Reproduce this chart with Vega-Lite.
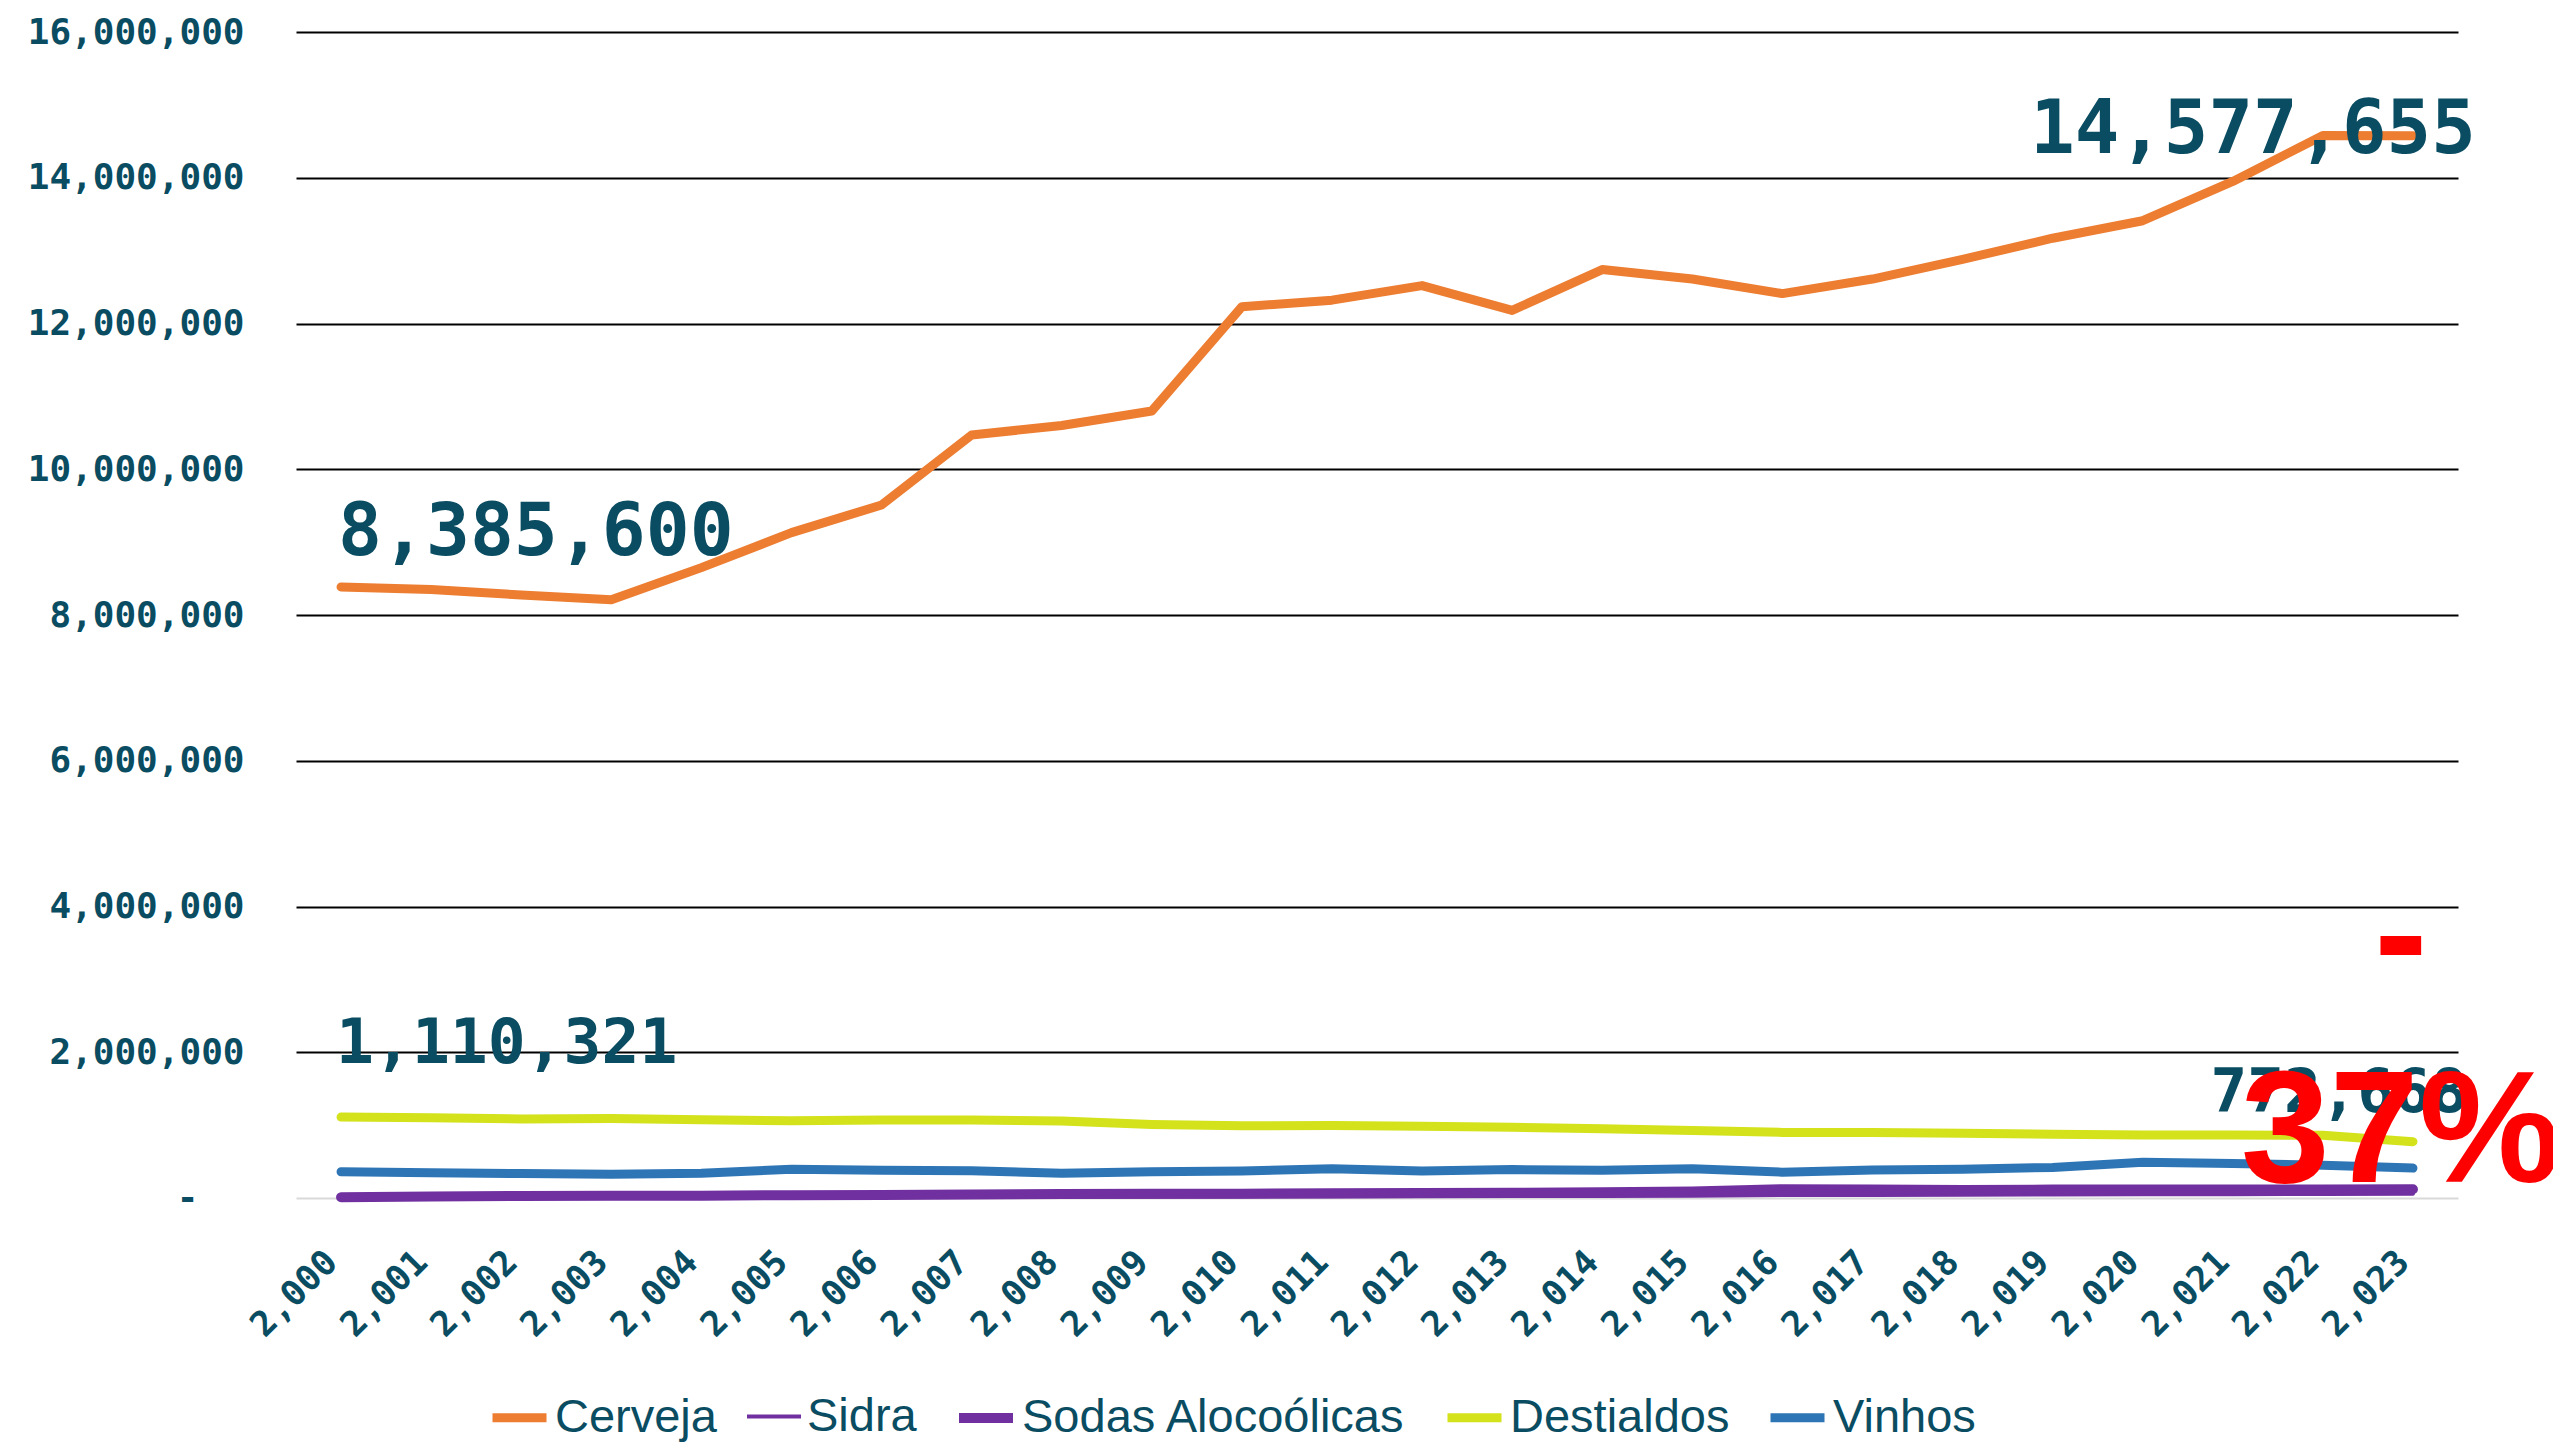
{
  "$schema": "https://vega.github.io/schema/vega-lite/v6.json",
  "autosize": "none",
  "width": 2162,
  "height": 1166,
  "padding": {"left": 296, "top": 32, "right": 95, "bottom": 245},
  "background": "white",
  "config": {
    "view": {"stroke": null},
    "axis": {"labelColor": "#0a4d62", "labelFont": "DejaVu Sans Mono", "labelFontWeight": "bold", "labelLimit": 500}
  },
  "datasets": {
    "main": [
      {"Ano": 2000, "Serie": "Cerveja", "Valor": 8385600},
      {"Ano": 2001, "Serie": "Cerveja", "Valor": 8350000},
      {"Ano": 2002, "Serie": "Cerveja", "Valor": 8275000},
      {"Ano": 2003, "Serie": "Cerveja", "Valor": 8210000},
      {"Ano": 2004, "Serie": "Cerveja", "Valor": 8650000},
      {"Ano": 2005, "Serie": "Cerveja", "Valor": 9130000},
      {"Ano": 2006, "Serie": "Cerveja", "Valor": 9510000},
      {"Ano": 2007, "Serie": "Cerveja", "Valor": 10470000},
      {"Ano": 2008, "Serie": "Cerveja", "Valor": 10600000},
      {"Ano": 2009, "Serie": "Cerveja", "Valor": 10800000},
      {"Ano": 2010, "Serie": "Cerveja", "Valor": 12230000},
      {"Ano": 2011, "Serie": "Cerveja", "Valor": 12320000},
      {"Ano": 2012, "Serie": "Cerveja", "Valor": 12520000},
      {"Ano": 2013, "Serie": "Cerveja", "Valor": 12180000},
      {"Ano": 2014, "Serie": "Cerveja", "Valor": 12740000},
      {"Ano": 2015, "Serie": "Cerveja", "Valor": 12610000},
      {"Ano": 2016, "Serie": "Cerveja", "Valor": 12410000},
      {"Ano": 2017, "Serie": "Cerveja", "Valor": 12610000},
      {"Ano": 2018, "Serie": "Cerveja", "Valor": 12880000},
      {"Ano": 2019, "Serie": "Cerveja", "Valor": 13170000},
      {"Ano": 2020, "Serie": "Cerveja", "Valor": 13410000},
      {"Ano": 2021, "Serie": "Cerveja", "Valor": 13950000},
      {"Ano": 2022, "Serie": "Cerveja", "Valor": 14580000},
      {"Ano": 2023, "Serie": "Cerveja", "Valor": 14577655},
      {"Ano": 2000, "Serie": "Sidra", "Valor": 5000},
      {"Ano": 2001, "Serie": "Sidra", "Valor": 6000},
      {"Ano": 2002, "Serie": "Sidra", "Valor": 8000},
      {"Ano": 2003, "Serie": "Sidra", "Valor": 9000},
      {"Ano": 2004, "Serie": "Sidra", "Valor": 10000},
      {"Ano": 2005, "Serie": "Sidra", "Valor": 12000},
      {"Ano": 2006, "Serie": "Sidra", "Valor": 13000},
      {"Ano": 2007, "Serie": "Sidra", "Valor": 15000},
      {"Ano": 2008, "Serie": "Sidra", "Valor": 17000},
      {"Ano": 2009, "Serie": "Sidra", "Valor": 18000},
      {"Ano": 2010, "Serie": "Sidra", "Valor": 20000},
      {"Ano": 2011, "Serie": "Sidra", "Valor": 22000},
      {"Ano": 2012, "Serie": "Sidra", "Valor": 24000},
      {"Ano": 2013, "Serie": "Sidra", "Valor": 26000},
      {"Ano": 2014, "Serie": "Sidra", "Valor": 28000},
      {"Ano": 2015, "Serie": "Sidra", "Valor": 30000},
      {"Ano": 2016, "Serie": "Sidra", "Valor": 40000},
      {"Ano": 2017, "Serie": "Sidra", "Valor": 42000},
      {"Ano": 2018, "Serie": "Sidra", "Valor": 45000},
      {"Ano": 2019, "Serie": "Sidra", "Valor": 48000},
      {"Ano": 2020, "Serie": "Sidra", "Valor": 50000},
      {"Ano": 2021, "Serie": "Sidra", "Valor": 52000},
      {"Ano": 2022, "Serie": "Sidra", "Valor": 55000},
      {"Ano": 2023, "Serie": "Sidra", "Valor": 58000},
      {"Ano": 2000, "Serie": "Sodas Alocoólicas", "Valor": 10000},
      {"Ano": 2001, "Serie": "Sodas Alocoólicas", "Valor": 20000},
      {"Ano": 2002, "Serie": "Sodas Alocoólicas", "Valor": 28000},
      {"Ano": 2003, "Serie": "Sodas Alocoólicas", "Valor": 30000},
      {"Ano": 2004, "Serie": "Sodas Alocoólicas", "Valor": 32000},
      {"Ano": 2005, "Serie": "Sodas Alocoólicas", "Valor": 38000},
      {"Ano": 2006, "Serie": "Sodas Alocoólicas", "Valor": 42000},
      {"Ano": 2007, "Serie": "Sodas Alocoólicas", "Valor": 48000},
      {"Ano": 2008, "Serie": "Sodas Alocoólicas", "Valor": 55000},
      {"Ano": 2009, "Serie": "Sodas Alocoólicas", "Valor": 58000},
      {"Ano": 2010, "Serie": "Sodas Alocoólicas", "Valor": 60000},
      {"Ano": 2011, "Serie": "Sodas Alocoólicas", "Valor": 65000},
      {"Ano": 2012, "Serie": "Sodas Alocoólicas", "Valor": 68000},
      {"Ano": 2013, "Serie": "Sodas Alocoólicas", "Valor": 72000},
      {"Ano": 2014, "Serie": "Sodas Alocoólicas", "Valor": 80000},
      {"Ano": 2015, "Serie": "Sodas Alocoólicas", "Valor": 90000},
      {"Ano": 2016, "Serie": "Sodas Alocoólicas", "Valor": 120000},
      {"Ano": 2017, "Serie": "Sodas Alocoólicas", "Valor": 118000},
      {"Ano": 2018, "Serie": "Sodas Alocoólicas", "Valor": 110000},
      {"Ano": 2019, "Serie": "Sodas Alocoólicas", "Valor": 115000},
      {"Ano": 2020, "Serie": "Sodas Alocoólicas", "Valor": 118000},
      {"Ano": 2021, "Serie": "Sodas Alocoólicas", "Valor": 118000},
      {"Ano": 2022, "Serie": "Sodas Alocoólicas", "Valor": 118000},
      {"Ano": 2023, "Serie": "Sodas Alocoólicas", "Valor": 120000},
      {"Ano": 2000, "Serie": "Destialdos", "Valor": 1110321},
      {"Ano": 2001, "Serie": "Destialdos", "Valor": 1100000},
      {"Ano": 2002, "Serie": "Destialdos", "Valor": 1085000},
      {"Ano": 2003, "Serie": "Destialdos", "Valor": 1090000},
      {"Ano": 2004, "Serie": "Destialdos", "Valor": 1075000},
      {"Ano": 2005, "Serie": "Destialdos", "Valor": 1060000},
      {"Ano": 2006, "Serie": "Destialdos", "Valor": 1070000},
      {"Ano": 2007, "Serie": "Destialdos", "Valor": 1070000},
      {"Ano": 2008, "Serie": "Destialdos", "Valor": 1055000},
      {"Ano": 2009, "Serie": "Destialdos", "Valor": 1010000},
      {"Ano": 2010, "Serie": "Destialdos", "Valor": 990000},
      {"Ano": 2011, "Serie": "Destialdos", "Valor": 995000},
      {"Ano": 2012, "Serie": "Destialdos", "Valor": 985000},
      {"Ano": 2013, "Serie": "Destialdos", "Valor": 970000},
      {"Ano": 2014, "Serie": "Destialdos", "Valor": 950000},
      {"Ano": 2015, "Serie": "Destialdos", "Valor": 925000},
      {"Ano": 2016, "Serie": "Destialdos", "Valor": 900000},
      {"Ano": 2017, "Serie": "Destialdos", "Valor": 900000},
      {"Ano": 2018, "Serie": "Destialdos", "Valor": 890000},
      {"Ano": 2019, "Serie": "Destialdos", "Valor": 875000},
      {"Ano": 2020, "Serie": "Destialdos", "Valor": 865000},
      {"Ano": 2021, "Serie": "Destialdos", "Valor": 865000},
      {"Ano": 2022, "Serie": "Destialdos", "Valor": 860000},
      {"Ano": 2023, "Serie": "Destialdos", "Valor": 772668},
      {"Ano": 2000, "Serie": "Vinhos", "Valor": 360000},
      {"Ano": 2001, "Serie": "Vinhos", "Valor": 345000},
      {"Ano": 2002, "Serie": "Vinhos", "Valor": 335000},
      {"Ano": 2003, "Serie": "Vinhos", "Valor": 325000},
      {"Ano": 2004, "Serie": "Vinhos", "Valor": 340000},
      {"Ano": 2005, "Serie": "Vinhos", "Valor": 395000},
      {"Ano": 2006, "Serie": "Vinhos", "Valor": 380000},
      {"Ano": 2007, "Serie": "Vinhos", "Valor": 375000},
      {"Ano": 2008, "Serie": "Vinhos", "Valor": 340000},
      {"Ano": 2009, "Serie": "Vinhos", "Valor": 360000},
      {"Ano": 2010, "Serie": "Vinhos", "Valor": 370000},
      {"Ano": 2011, "Serie": "Vinhos", "Valor": 400000},
      {"Ano": 2012, "Serie": "Vinhos", "Valor": 370000},
      {"Ano": 2013, "Serie": "Vinhos", "Valor": 390000},
      {"Ano": 2014, "Serie": "Vinhos", "Valor": 380000},
      {"Ano": 2015, "Serie": "Vinhos", "Valor": 400000},
      {"Ano": 2016, "Serie": "Vinhos", "Valor": 355000},
      {"Ano": 2017, "Serie": "Vinhos", "Valor": 385000},
      {"Ano": 2018, "Serie": "Vinhos", "Valor": 395000},
      {"Ano": 2019, "Serie": "Vinhos", "Valor": 420000},
      {"Ano": 2020, "Serie": "Vinhos", "Valor": 490000},
      {"Ano": 2021, "Serie": "Vinhos", "Valor": 475000},
      {"Ano": 2022, "Serie": "Vinhos", "Valor": 450000},
      {"Ano": 2023, "Serie": "Vinhos", "Valor": 410000}
    ]
  },
  "encoding": {
    "x": {
      "field": "Ano", "type": "ordinal",
      "scale": {"type": "point", "padding": 0.5},
      "axis": {
        "title": null, "domain": false, "ticks": false, "grid": false,
        "labelAngle": -45, "labelFontSize": 35, "labelPadding": 46, "labelOffset": -22,
        "labelExpr": "format(datum.value, ',')"
      }
    },
    "y": {
      "field": "Valor", "type": "quantitative",
      "scale": {"domain": [0, 16000000], "nice": false},
      "axis": {
        "title": null, "domain": false, "ticks": false,
        "values": [0, 2000000, 4000000, 6000000, 8000000, 10000000, 12000000, 14000000, 16000000],
        "gridColor": {"expr": "datum.value === 0 ? '#d9d9d9' : '#000000'"},
        "gridWidth": 2,
        "labelFontSize": 36,
        "labelPadding": {"condition": {"test": "datum.value === 0", "value": 98}, "value": 52},
        "labelExpr": "datum.value === 0 ? '-' : format(datum.value, ',')"
      }
    }
  },
  "layer": [
    {
      "data": {"name": "main"},
      "mark": {"type": "line", "strokeCap": "round", "strokeJoin": "round"},
      "encoding": {
        "color": {
          "field": "Serie", "type": "nominal",
          "scale": {
            "domain": ["Cerveja", "Sidra", "Sodas Alocoólicas", "Destialdos", "Vinhos"],
            "range": ["#ed7d31", "#7030a0", "#7030a0", "#d3e21b", "#2e75b6"]
          },
          "legend": {
            "title": null, "orient": "none", "direction": "horizontal",
            "legendX": 192, "legendY": 1354, "padding": 0,
            "symbolType": "stroke", "symbolSize": 2916,
            "labelFont": "Liberation Sans", "labelFontSize": 47, "labelColor": "#0a4d62",
            "labelOffset": 4, "columnPadding": 22, "labelLimit": 600
          }
        },
        "strokeWidth": {
          "field": "Serie", "type": "nominal",
          "scale": {
            "type": "ordinal",
            "domain": ["Cerveja", "Sidra", "Sodas Alocoólicas", "Destialdos", "Vinhos"],
            "range": [9, 4, 10, 9, 9]
          },
          "legend": {
            "title": null, "orient": "none", "direction": "horizontal",
            "legendX": 192, "legendY": 1354, "padding": 0,
            "symbolType": "stroke", "symbolSize": 2916,
            "labelFont": "Liberation Sans", "labelFontSize": 47, "labelColor": "#0a4d62",
            "labelOffset": 4, "columnPadding": 22, "labelLimit": 600
          }
        }
      }
    },
    {
      "data": {"values": [{"Ano": 2000, "Valor": 8385600, "Texto": "8,385,600"}]},
      "mark": {"type": "text", "align": "left", "baseline": "alphabetic", "dx": -3, "dy": -32, "font": "DejaVu Sans Mono", "fontWeight": "bold", "fontSize": 73, "color": "#0a4d62"},
      "encoding": {"text": {"field": "Texto"}}
    },
    {
      "data": {"values": [{"Ano": 2023, "Valor": 14577655, "Texto": "14,577,655"}]},
      "mark": {"type": "text", "align": "center", "baseline": "alphabetic", "dx": -160, "dy": 17, "font": "DejaVu Sans Mono", "fontWeight": "bold", "fontSize": 74, "color": "#0a4d62"},
      "encoding": {"text": {"field": "Texto"}}
    },
    {
      "data": {"values": [{"Ano": 2000, "Valor": 1110321, "Texto": "1,110,321"}]},
      "mark": {"type": "text", "align": "left", "baseline": "alphabetic", "dx": -5, "dy": -54, "font": "DejaVu Sans Mono", "fontWeight": "bold", "fontSize": 63, "color": "#0a4d62"},
      "encoding": {"text": {"field": "Texto"}}
    },
    {
      "data": {"values": [{"Ano": 2023, "Valor": 772668, "Texto": "772,668"}]},
      "mark": {"type": "text", "align": "center", "baseline": "alphabetic", "dx": -74, "dy": -30, "font": "DejaVu Sans Mono", "fontWeight": "bold", "fontSize": 61, "color": "#0a4d62"},
      "encoding": {"text": {"field": "Texto"}}
    },
    {
      "data": {"values": [{"Ano": 2023, "Valor": 772668, "Texto": "-"}]},
      "mark": {"type": "text", "align": "center", "baseline": "alphabetic", "dx": -12, "dy": -155, "font": "Liberation Sans", "fontWeight": "bold", "fontSize": 160, "color": "#ff0000"},
      "encoding": {"text": {"field": "Texto"}}
    },
    {
      "data": {"values": [{"Ano": 2023, "Valor": 772668, "Texto": "37%"}]},
      "mark": {"type": "text", "align": "center", "baseline": "alphabetic", "dx": -12, "dy": 40, "font": "Liberation Sans", "fontWeight": "bold", "fontSize": 160, "color": "#ff0000"},
      "encoding": {"text": {"field": "Texto"}}
    }
  ]
}
